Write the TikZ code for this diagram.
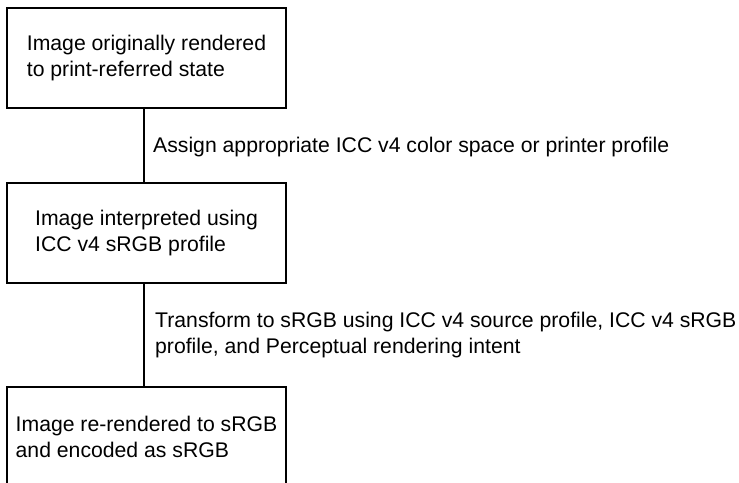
\documentclass[tikz,border=0pt]{standalone}
\usepackage{fontspec}
\setmainfont{Liberation Sans}
\begin{document}
\begin{tikzpicture}[x=1pt,y=-1pt,
  every node/.style={font=\fontsize{21.2}{26}\selectfont},
  stagebox/.style={draw=black, line width=1.8pt, minimum width=279pt, minimum height=100pt,
    inner sep=0pt, align=left},
  link/.style={draw=black, line width=1.8pt},
  steplabel/.style={anchor=west, inner sep=0pt, align=left}]
  \useasboundingbox (0,0) rectangle (739,482);
  \clip (0,0) rectangle (739,482);

  % processing stages
  \node[stagebox] (render) at (146.5,58) {Image originally rendered\\to print-referred state};
  \node[stagebox] (interp) at (146.5,233) {Image interpreted using\\ICC v4 sRGB profile};
  \node[stagebox] (rerender) at (146.5,437) {Image re-rendered to sRGB\\and encoded as sRGB};

  % connectors between stages
  \draw[link] ([xshift=-2.5pt]render.south) -- ([xshift=-2.5pt]interp.north);
  \draw[link] ([xshift=-2.5pt]interp.south) -- ([xshift=-2.5pt]rerender.north);

  % step descriptions
  \node[steplabel] (assign) at (153,147) {Assign appropriate ICC v4 color space or printer profile};
  \node[steplabel] (transform) at (155,335) {Transform to sRGB using ICC v4 source profile, ICC v4 sRGB\\profile, and Perceptual rendering intent};
\end{tikzpicture}
\end{document}
